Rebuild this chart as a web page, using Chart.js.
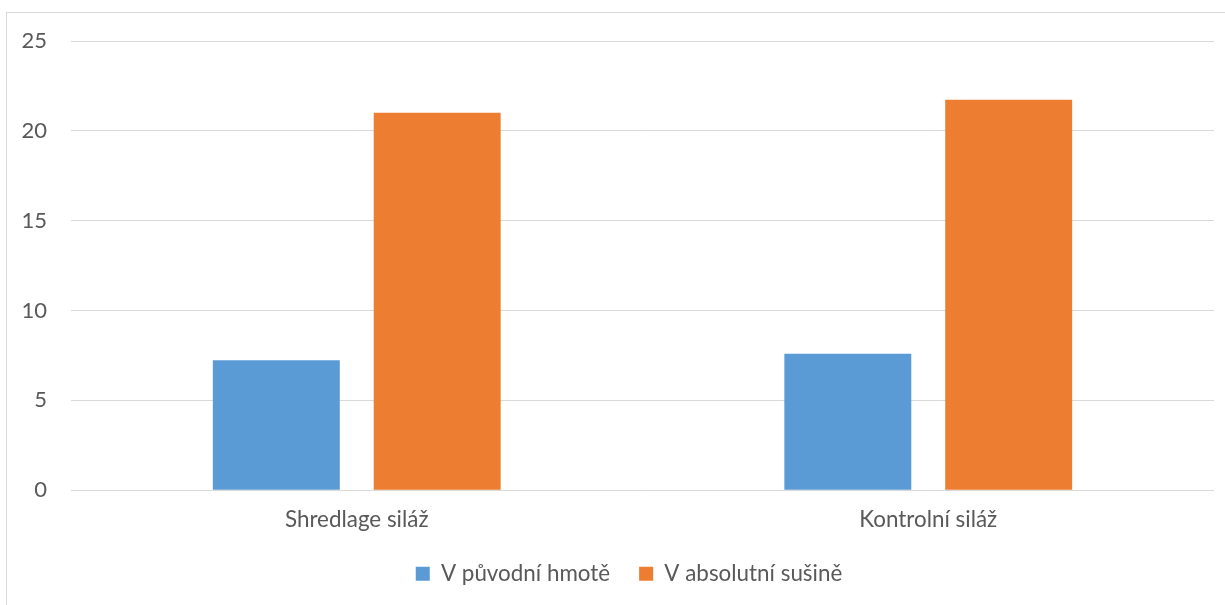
<!DOCTYPE html>
<html lang="cs">
<head>
<meta charset="utf-8">
<title>Siláž</title>
<script src="https://cdn.jsdelivr.net/npm/chart.js@4.4.1/dist/chart.umd.min.js"></script>
<style>
  html, body { margin: 0; padding: 0; background: #ffffff; }
  #wrap { position: relative; width: 1225px; height: 605px; overflow: hidden; }
  #frame { position: absolute; left: 6px; top: 12px; width: 1230px; height: 610px;
           border: 1px solid #d9d9d9; box-sizing: border-box; pointer-events: none; }
  canvas { position: absolute; left: 0; top: 0; }
</style>
</head>
<body>
<div id="wrap">
  <div id="frame"></div>
  <canvas id="c" width="1225" height="605"></canvas>
</div>
<script>
// Categories and series
const categories = ['Shredlage siláž', 'Kontrolní siláž'];
const seriesNames = ['V původní hmotě', 'V absolutní sušině'];
const puvodniHmota = [7.23, 7.6];
const absolutniSusina = [21.0, 21.73];
const yTicks = [0, 5, 10, 15, 20, 25];

const textColor = '#595959';
const gridColor = '#d9d9d9';
const fontFamily = 'Lato, "Open Sans", sans-serif';
const fontSize = 22.4;

// Nudges the bottom legend so it sits centred under the plot area
const legendOffset = {
  id: 'legendOffset',
  afterLayout(chart) {
    const dx = 22;
    chart.legend.left += dx;
    chart.legend.right += dx;
  }
};

new Chart(document.getElementById('c'), {
  type: 'bar',
  data: {
    labels: categories,
    datasets: [
      { label: seriesNames[0], data: puvodniHmota, backgroundColor: '#5b9bd5',
        categoryPercentage: 0.563, barPercentage: 0.789 },
      { label: seriesNames[1], data: absolutniSusina, backgroundColor: '#ed7d31',
        categoryPercentage: 0.563, barPercentage: 0.789 }
    ]
  },
  plugins: [legendOffset],
  options: {
    responsive: false,
    animation: false,
    devicePixelRatio: 1,
    layout: { padding: { top: 41, right: 11, bottom: 10, left: 0 } },
    plugins: {
      tooltip: { enabled: false },
      legend: {
        position: 'bottom',
        labels: {
          boxWidth: 14, boxHeight: 14, padding: 29,
          color: textColor,
          font: { family: fontFamily, size: fontSize }
        }
      }
    },
    scales: {
      x: {
        afterFit: (s) => { s.height = 43.4; },
        grid: { display: false, drawTicks: false },
        border: { display: false },
        ticks: { color: textColor, padding: 16, font: { family: fontFamily, size: fontSize } }
      },
      y: {
        min: 0, max: 25,
        afterFit: (s) => { s.width = 71; },
        afterBuildTicks: (s) => { s.ticks = yTicks.map(v => ({ value: v })); },
        grid: { color: gridColor, lineWidth: 1, drawTicks: false },
        border: { display: false },
        ticks: { color: textColor, padding: 24, font: { family: fontFamily, size: 22 } }
      }
    }
  }
});
</script>
</body>
</html>
